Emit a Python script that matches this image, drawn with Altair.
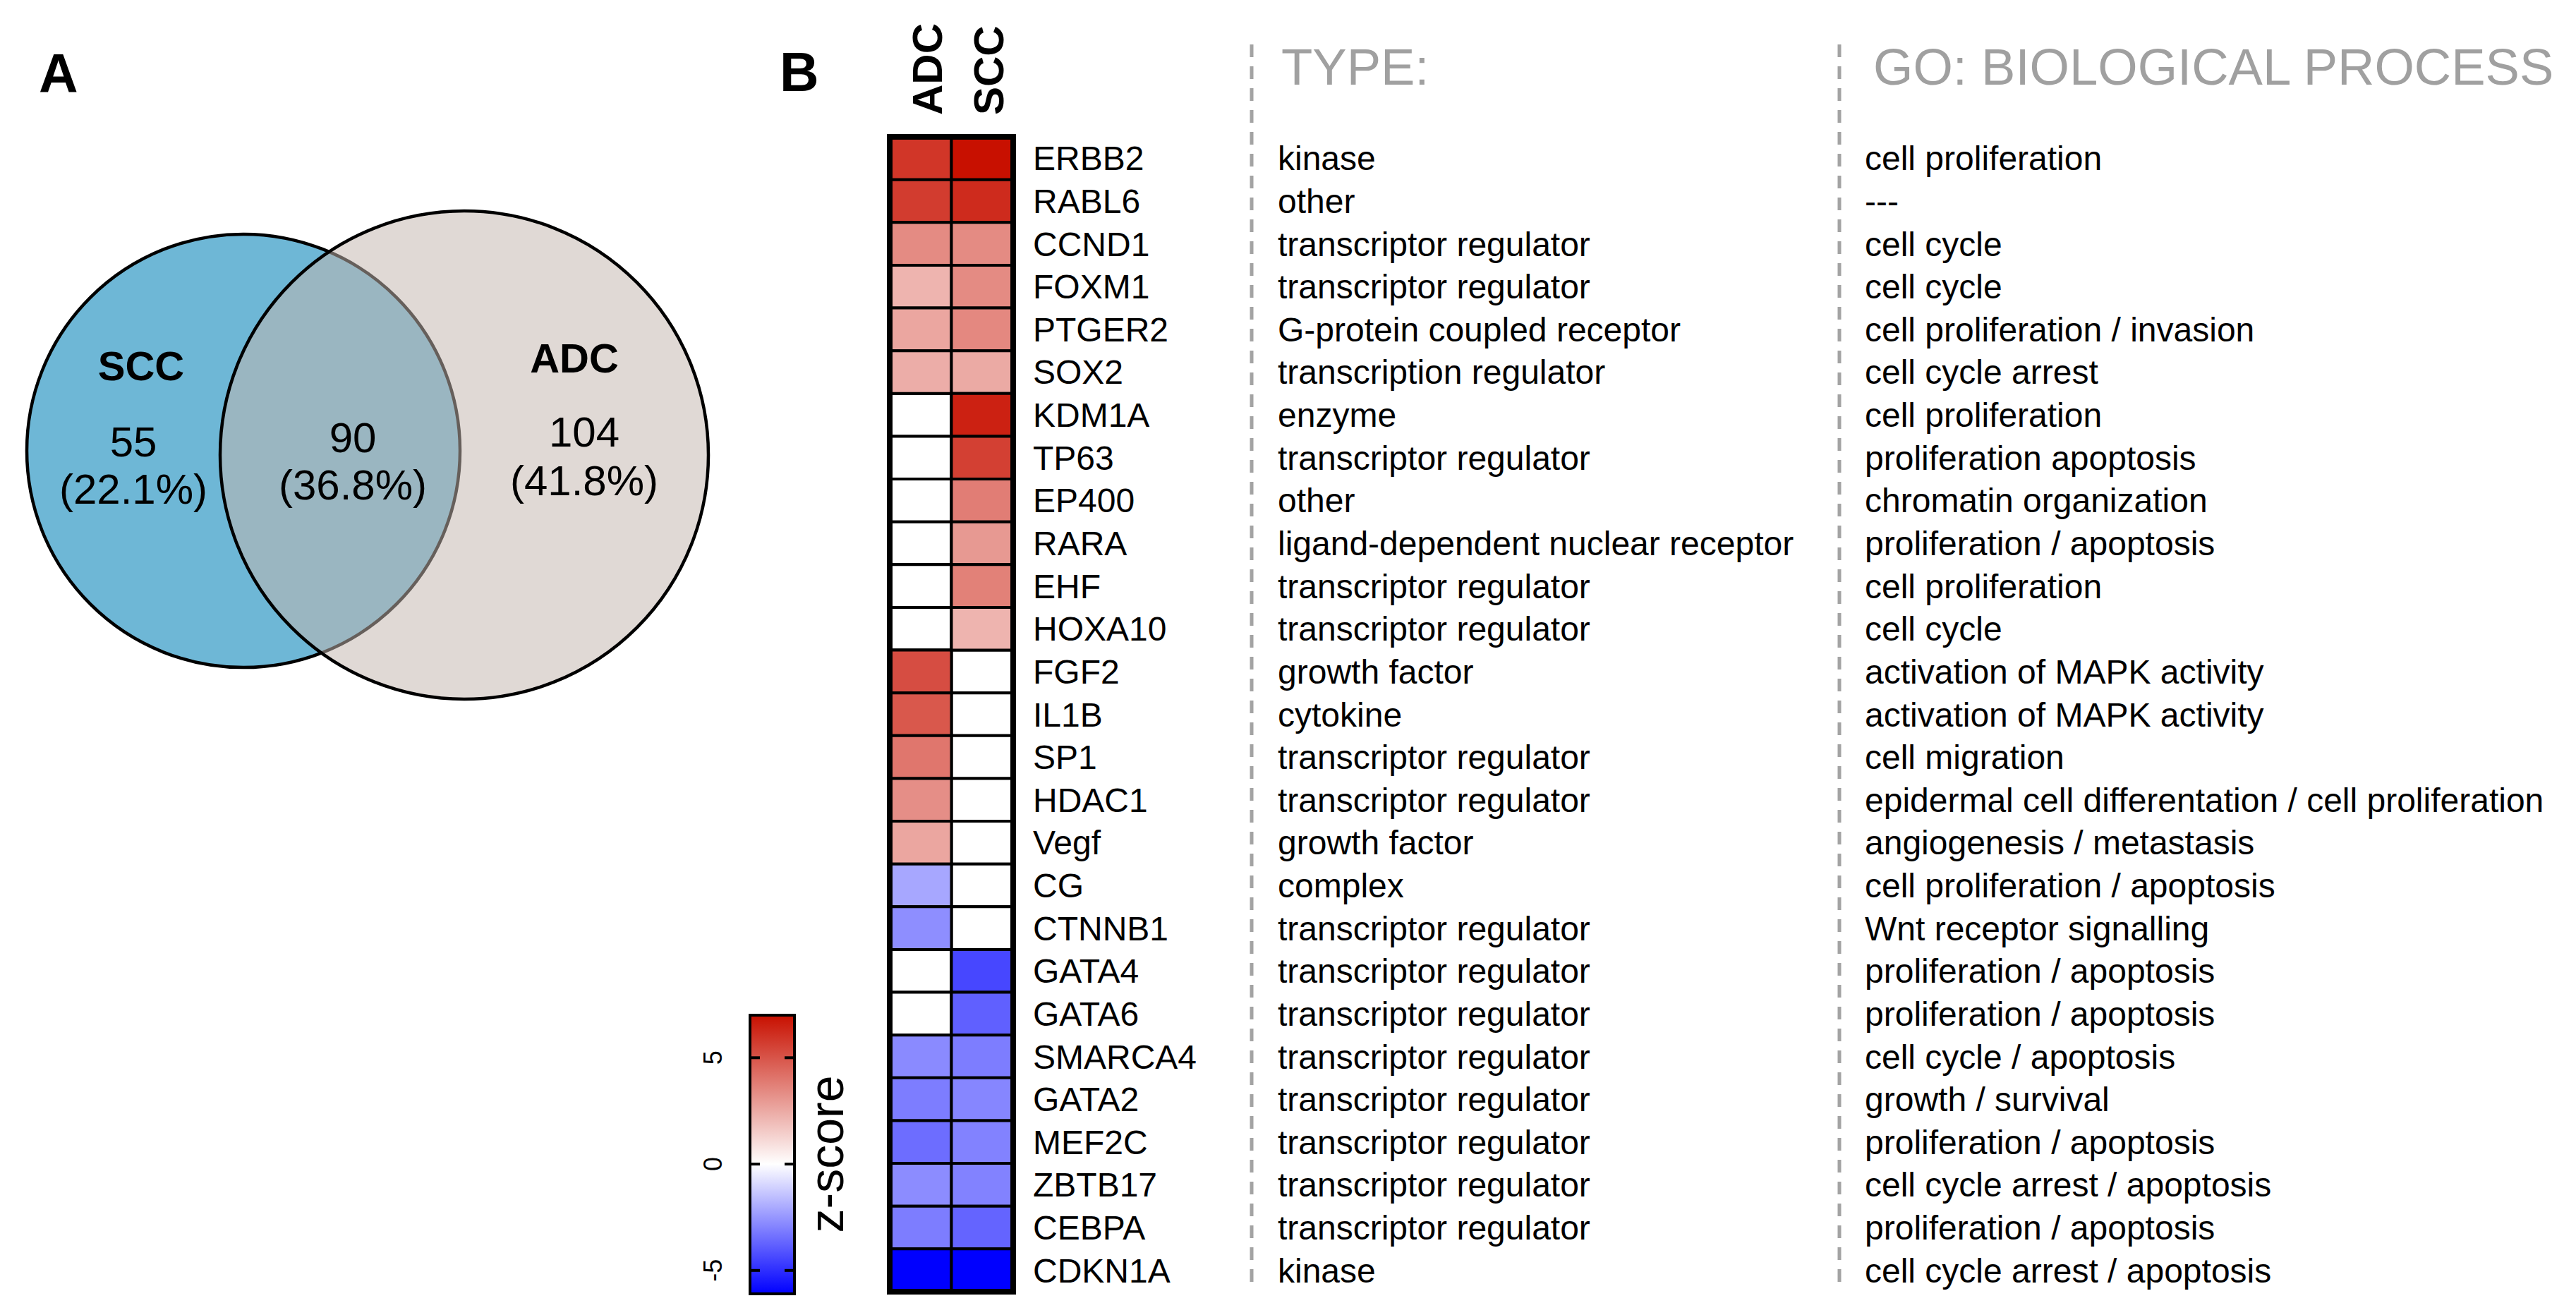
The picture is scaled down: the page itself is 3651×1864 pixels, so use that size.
import altair as alt
import pandas as pd

FONT = "Liberation Sans, Arial, sans-serif"

# ---------------- data ----------------
# Venn diagram (circle geometry, reference pixel units)
venn_sets = ["SCC", "ADC"]
venn_cx = [345, 658]
venn_cy = [639, 645]
venn_r = [307, 346]
venn_fill = ["#6EB7D6", "#C3B6AE"]
venn_fill_opacity = [1.0, 0.52]
set_label_x = [200, 814]
set_label_y = [539, 528]

region_counts = [55, 90, 104]
region_pct = [22.1, 36.8, 41.8]
region_x = [189, 500, 828]
region_count_y = [647, 641, 633]
region_pct_y = [714, 708, 702]

panel_letters = ["A", "B"]
panel_x = [55, 1105]
panel_y = [131, 129]

# Heatmap
samples = ["ADC", "SCC"]
genes = ["ERBB2", "RABL6", "CCND1", "FOXM1", "PTGER2", "SOX2", "KDM1A", "TP63",
         "EP400", "RARA", "EHF", "HOXA10", "FGF2", "IL1B", "SP1", "HDAC1", "Vegf",
         "CG", "CTNNB1", "GATA4", "GATA6", "SMARCA4", "GATA2", "MEF2C", "ZBTB17",
         "CEBPA", "CDKN1A"]
z_adc = [5.9, 5.7, 3.4, 2.2, 2.6, 2.4, None, None, None, None, None, None,
         5.2, 4.9, 4.0, 3.3, 2.6, -2.1, -2.7, None, None, -2.8, -3.1, -3.5,
         -2.75, -3.1, -6.1]
z_scc = [7.0, 6.2, 3.4, 3.4, 3.5, 2.5, 6.5, 5.6, 3.8, 3.0, 3.7, 2.2,
         None, None, None, None, None, None, None, -4.4, -3.8, -3.1, -2.9, -3.0,
         -3.0, -3.7, -6.1]
gene_type = ["kinase", "other", "transcriptor regulator", "transcriptor regulator",
             "G-protein coupled receptor", "transcription regulator", "enzyme",
             "transcriptor regulator", "other", "ligand-dependent nuclear receptor",
             "transcriptor regulator", "transcriptor regulator", "growth factor",
             "cytokine", "transcriptor regulator", "transcriptor regulator",
             "growth factor", "complex", "transcriptor regulator",
             "transcriptor regulator", "transcriptor regulator", "transcriptor regulator",
             "transcriptor regulator", "transcriptor regulator", "transcriptor regulator",
             "transcriptor regulator", "kinase"]
go_process = ["cell proliferation", "---", "cell cycle", "cell cycle",
              "cell proliferation / invasion", "cell cycle arrest", "cell proliferation",
              "proliferation apoptosis", "chromatin organization",
              "proliferation / apoptosis", "cell proliferation", "cell cycle",
              "activation of MAPK activity", "activation of MAPK activity",
              "cell migration", "epidermal cell differentation / cell proliferation",
              "angiogenesis / metastasis", "cell proliferation / apoptosis",
              "Wnt receptor signalling", "proliferation / apoptosis",
              "proliferation / apoptosis", "cell cycle / apoptosis", "growth / survival",
              "proliferation / apoptosis", "cell cycle arrest / apoptosis",
              "proliferation / apoptosis", "cell cycle arrest / apoptosis"]
column_headers = ["TYPE:", "GO: BIOLOGICAL PROCESS"]

# Colour bar
cbar_min, cbar_max = -6.1, 7.0
cbar_ticks = [-5, 0, 5]
cbar_title = "z-score"
heat_colors = ["#0000FF", "#FFFFFF", "#C81000"]

# ---------------- layout constants ----------------
W, H = 3635, 1848
OFF = 8  # page margin
PAGE_X = alt.Scale(domain=[OFF, W + OFF], range=[0, W], nice=False, zero=False)
PAGE_Y = alt.Scale(domain=[OFF, H + OFF], range=[0, H], nice=False, zero=False)

HM_X0, HM_X1 = 1261 - OFF, 1436 - OFF
HM_Y0, HM_Y1 = 194 - OFF, 1831 - OFF
HM_X = alt.Scale(domain=samples, range=[HM_X0, HM_X1], paddingInner=0, paddingOuter=0)
HM_Y = alt.Scale(domain=genes, range=[HM_Y0, HM_Y1], paddingInner=0, paddingOuter=0)

CB_Y = alt.Scale(domain=[cbar_min, cbar_max], range=[1834 - OFF, 1439 - OFF],
                 nice=False, zero=False)

GRAY = "#A3A3A3"

# ---------------- page-level layer (Venn + annotations) ----------------
venn_df = pd.DataFrame({"set": venn_sets, "cx": venn_cx, "cy": venn_cy, "r": venn_r,
                        "fill": venn_fill, "fo": venn_fill_opacity})
circles = alt.Chart(venn_df).transform_calculate(
    d2="pow(2 * datum.r, 2)"
).mark_point(shape="circle", filled=True, opacity=1, stroke="black",
             strokeWidth=4.5, strokeOpacity=1).encode(
    x=alt.X("cx:Q", scale=PAGE_X, axis=None),
    y=alt.Y("cy:Q", scale=PAGE_Y, axis=None),
    size=alt.Size("d2:Q", scale=None, legend=None),
    fill=alt.Fill("fill:N", scale=None, legend=None),
    fillOpacity=alt.FillOpacity("fo:Q", scale=None, legend=None),
)

set_labels = alt.Chart(pd.DataFrame({"t": venn_sets, "x": set_label_x, "y": set_label_y})).mark_text(
    font=FONT, fontSize=58, fontWeight="bold", align="center", baseline="alphabetic", color="black"
).encode(x=alt.X("x:Q", scale=PAGE_X, axis=None), y=alt.Y("y:Q", scale=PAGE_Y, axis=None), text="t:N")

count_df = pd.DataFrame({
    "t": [str(c) for c in region_counts] + [f"({p}%)" for p in region_pct],
    "x": region_x + region_x,
    "y": region_count_y + region_pct_y,
})
count_labels = alt.Chart(count_df).mark_text(
    font=FONT, fontSize=60, align="center", baseline="alphabetic", color="black"
).encode(x=alt.X("x:Q", scale=PAGE_X, axis=None), y=alt.Y("y:Q", scale=PAGE_Y, axis=None), text="t:N")

letters = alt.Chart(pd.DataFrame({"t": panel_letters, "x": panel_x, "y": panel_y})).mark_text(
    font=FONT, fontSize=77, fontWeight="bold", align="left", baseline="alphabetic", color="black"
).encode(x=alt.X("x:Q", scale=PAGE_X, axis=None), y=alt.Y("y:Q", scale=PAGE_Y, axis=None), text="t:N")

headers = alt.Chart(pd.DataFrame({"t": column_headers, "x": [1816, 2655], "y": [120, 120]})).mark_text(
    font=FONT, fontSize=72.5, align="left", baseline="alphabetic", color="#A0A0A0"
).encode(x=alt.X("x:Q", scale=PAGE_X, axis=None), y=alt.Y("y:Q", scale=PAGE_Y, axis=None), text="t:N")

dashes = alt.Chart(pd.DataFrame({"x": [1774, 2607]})).mark_rule(
    color=GRAY, strokeWidth=5, strokeDash=[18, 13]
).encode(x=alt.X("x:Q", scale=PAGE_X, axis=None), y=alt.value(63 - OFF), y2=alt.value(1828 - OFF))

page_group = alt.layer(circles, set_labels, count_labels, letters, headers, dashes)

# ---------------- heatmap + text columns ----------------
heat_df = pd.DataFrame({
    "gene": genes * 2,
    "sample": ["ADC"] * len(genes) + ["SCC"] * len(genes),
    "z": z_adc + z_scc,
})
gene_df = pd.DataFrame({"gene": genes, "type": gene_type, "go": go_process})

base_cells = alt.Chart(heat_df).mark_rect(fill="white", stroke="black", strokeWidth=4).encode(
    x=alt.X("sample:N", scale=HM_X, axis=None),
    y=alt.Y("gene:N", scale=HM_Y, axis=None),
)
color_cells = alt.Chart(heat_df).transform_filter("isValid(datum.z)").mark_rect(
    stroke="black", strokeWidth=4
).encode(
    x=alt.X("sample:N", scale=HM_X, axis=None),
    y=alt.Y("gene:N", scale=HM_Y, axis=None),
    color=alt.Color("z:Q", scale=alt.Scale(domain=[cbar_min, 0, cbar_max], range=heat_colors,
                                           interpolate="rgb"), legend=None),
)
border = alt.Chart(pd.DataFrame({"k": [0]})).mark_rect(
    fill="white", fillOpacity=0, stroke="black", strokeWidth=8
).encode(x=alt.value(HM_X0), x2=alt.value(HM_X1), y=alt.value(HM_Y0), y2=alt.value(HM_Y1))

gene_labels = alt.Chart(gene_df).mark_text(
    font=FONT, fontSize=48, align="left", baseline="alphabetic", dy=17, color="black"
).encode(x=alt.value(1464 - OFF), y=alt.Y("gene:N", scale=HM_Y, axis=None), text="gene:N")

type_labels = alt.Chart(gene_df).mark_text(
    font=FONT, fontSize=48, align="left", baseline="alphabetic", dy=17, color="black"
).encode(x=alt.value(1811 - OFF), y=alt.Y("gene:N", scale=HM_Y, axis=None), text="type:N")

go_labels = alt.Chart(gene_df).mark_text(
    font=FONT, fontSize=48, align="left", baseline="alphabetic", dy=17, color="black"
).encode(x=alt.value(2643 - OFF), y=alt.Y("gene:N", scale=HM_Y, axis=None), text="go:N")

sample_labels = alt.Chart(pd.DataFrame({"sample": samples})).mark_text(
    font=FONT, fontSize=60, fontWeight="bold", angle=270, align="left",
    baseline="alphabetic", dy=30, color="black"
).encode(x=alt.X("sample:N", scale=HM_X, axis=None), y=alt.value(163 - OFF), text="sample:N")

heat_group = alt.layer(base_cells, color_cells, border, gene_labels, type_labels,
                       go_labels, sample_labels)

# ---------------- colour bar ----------------
zero_offset = (0 - cbar_min) / (cbar_max - cbar_min)
gradient = alt.LinearGradient(
    gradient="linear",
    stops=[alt.GradientStop(color=heat_colors[0], offset=0),
           alt.GradientStop(color=heat_colors[1], offset=zero_offset),
           alt.GradientStop(color=heat_colors[2], offset=1)],
    x1=0, x2=0, y1=1, y2=0,
)
cbar_rect = alt.Chart(pd.DataFrame({"lo": [cbar_min], "hi": [cbar_max]})).mark_rect(
    fill=gradient, stroke="black", strokeWidth=4
).encode(x=alt.value(1063 - OFF), x2=alt.value(1126 - OFF),
         y=alt.Y("lo:Q", scale=CB_Y, axis=None), y2="hi:Q")

tick_df = pd.DataFrame({"t": cbar_ticks, "lab": [str(t) for t in cbar_ticks]})
ticks_left = alt.Chart(tick_df).mark_rule(color="black", strokeWidth=4).encode(
    y=alt.Y("t:Q", scale=CB_Y, axis=None), x=alt.value(1065 - OFF), x2=alt.value(1077 - OFF))
ticks_right = alt.Chart(tick_df).mark_rule(color="black", strokeWidth=4).encode(
    y=alt.Y("t:Q", scale=CB_Y, axis=None), x=alt.value(1112 - OFF), x2=alt.value(1124 - OFF))
tick_labels = alt.Chart(tick_df).mark_text(
    font=FONT, fontSize=36, angle=270, align="center", baseline="alphabetic", color="black"
).encode(y=alt.Y("t:Q", scale=CB_Y, axis=None), x=alt.value(1023 - OFF), text="lab:N")
cbar_label = alt.Chart(pd.DataFrame({"t": [cbar_title]})).mark_text(
    font=FONT, fontSize=68, angle=270, align="center", baseline="alphabetic", color="black"
).encode(x=alt.value(1195 - OFF), y=alt.value(1636 - OFF), text="t:N")

cbar_group = alt.layer(cbar_rect, ticks_left, ticks_right, tick_labels, cbar_label)

chart = alt.layer(page_group, heat_group, cbar_group).resolve_scale(
    x="independent", y="independent"
).properties(
    width=W, height=H, autosize=alt.AutoSizeParams(type="none"), padding=0,
    background="white"
).configure_view(strokeWidth=0)

chart.save("out.html", embed_options={"renderer": "svg", "actions": False})
